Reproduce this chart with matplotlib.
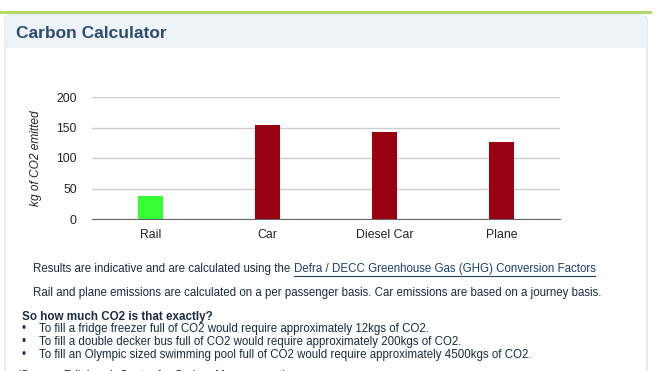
import matplotlib.pyplot as plt
import matplotlib as mpl
from matplotlib.patches import FancyBboxPatch, Rectangle
from matplotlib.lines import Line2D

mpl.rcParams["font.family"] = ["Liberation Sans", "DejaVu Sans"]

# data
modes = ["Rail", "Car", "Diesel Car", "Plane"]
co2_kg = [38, 154, 142, 126]
bar_colors = ["#33ff33", "#990011", "#990011", "#990011"]
y_ticks = [0, 50, 100, 150, 200]

W, H = 660, 371
fig = plt.figure(figsize=(W / 100, H / 100), dpi=100)


def fx(x):
    return x / W


def fy(y):
    return 1 - y / H


# page decoration (kept behind the axes)
fig.add_artist(Line2D([0, fx(650)], [fy(12), fy(12)], color="#b5d76a", lw=2.2, zorder=-1))
panel = FancyBboxPatch((fx(5), fy(400)), fx(642), (400 - 15) / H,
                       boxstyle="round,pad=0,rounding_size=0.012",
                       fc="white", ec="#dce6f1", lw=1.0, transform=fig.transFigure, zorder=-3)
fig.add_artist(panel)
header = FancyBboxPatch((fx(5.5), fy(48)), fx(641), 33 / H,
                        boxstyle="round,pad=0,rounding_size=0.012",
                        fc="#eef3f8", ec="none", transform=fig.transFigure, zorder=-2)
fig.add_artist(header)
fig.add_artist(Rectangle((fx(5.5), fy(48)), fx(641), 10 / H, fc="#eef3f8", ec="none",
                         transform=fig.transFigure, zorder=-2))
fig.text(fx(16), fy(33), "Carbon Calculator", fontsize=12.5, fontweight="bold",
         color="#2c4b72", va="center")

# chart
ax = fig.add_axes([fx(92), fy(219), fx(468), 122 / H])
ax.patch.set_alpha(0)
x = range(len(modes))
ax.bar(x, co2_kg, width=0.215, color=bar_colors, zorder=3)
ax.set_xlim(-0.5, 3.5)
ax.set_ylim(0, 200)
ax.set_yticks(y_ticks)
ax.set_xticks(list(x))
ax.set_xticklabels(modes)
ax.yaxis.grid(True, color="#cccccc", lw=1)
ax.set_axisbelow(True)
ax.tick_params(length=0, labelsize=8.8, labelcolor="#222222")
ax.tick_params(axis="y", pad=11)
ax.tick_params(axis="x", pad=7)
for s in ["top", "right", "left"]:
    ax.spines[s].set_visible(False)
ax.spines["bottom"].set_color("#666666")
ax.spines["bottom"].set_zorder(4)
ax.set_ylabel("kg of CO2 emitted", fontsize=8.6, style="italic", color="#222222", labelpad=10)

# text below chart
txt_col = "#1d2a40"
fs = 8.3
t1 = fig.text(fx(33), fy(269), "Results are indicative and are calculated using the ",
              fontsize=fs, color=txt_col, va="center")
fig.canvas.draw()
r = fig.canvas.get_renderer()
bb = t1.get_window_extent(r)
link = fig.text(bb.x1 / W, fy(269), "Defra / DECC Greenhouse Gas (GHG) Conversion Factors",
                fontsize=fs, color="#1f3f6e", va="center")
lb = link.get_window_extent(r)
fig.add_artist(Line2D([lb.x0 / W, lb.x1 / W], [fy(275.5), fy(275.5)], color="#1f3f6e", lw=0.8))

fig.text(fx(33), fy(293), "Rail and plane emissions are calculated on a per passenger basis. "
         "Car emissions are based on a journey basis.", fontsize=fs, color=txt_col, va="center")
fig.text(fx(22), fy(317), "So how much CO2 is that exactly?", fontsize=8.4, fontweight="bold",
         color=txt_col, va="center")
bullets = [
    "To fill a fridge freezer full of CO2 would require approximately 12kgs of CO2.",
    "To fill a double decker bus full of CO2 would require approximately 200kgs of CO2.",
    "To fill an Olympic sized swimming pool full of CO2 would require approximately 4500kgs of CO2.",
]
for i, b in enumerate(bullets):
    yy = fy(329 + 13 * i)
    fig.text(fx(22), yy, "\u2022", fontsize=fs, color=txt_col, va="center")
    fig.text(fx(39), yy, b, fontsize=fs, color=txt_col, va="center")
fig.text(fx(17), fy(376), "(Source: Edinburgh Centre for Carbon Management)", fontsize=fs,
         color=txt_col, va="center")

fig.savefig("out.png", dpi=100)
